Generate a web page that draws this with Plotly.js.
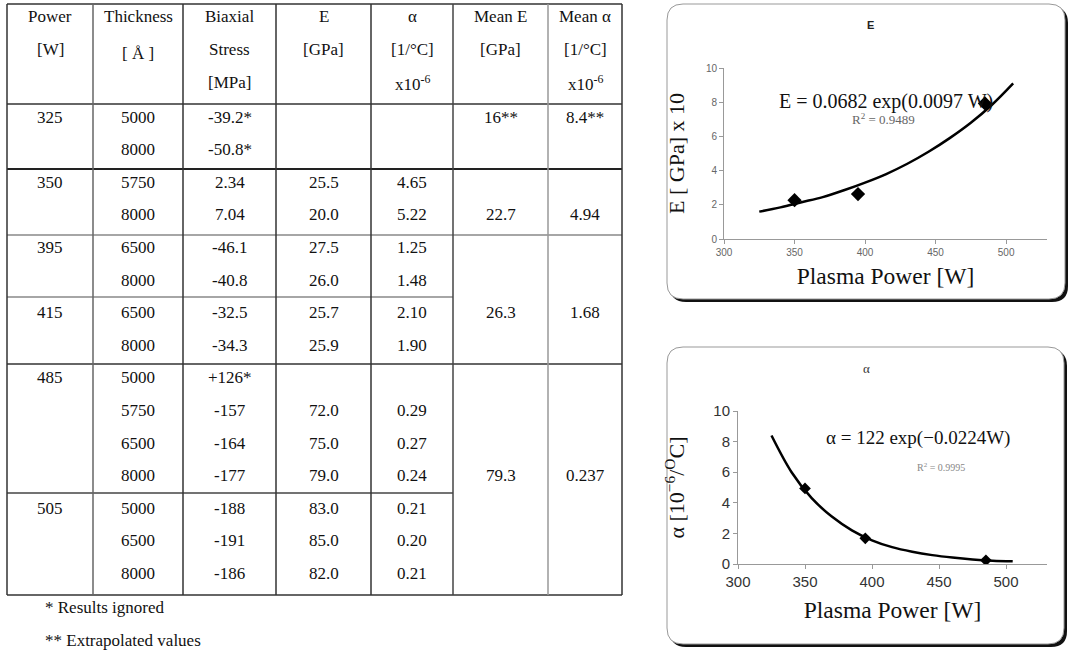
<!DOCTYPE html>
<html>
<head>
<meta charset="utf-8">
<script src="https://cdn.plot.ly/plotly-3.0.1.min.js"></script>
<style>html,body{margin:0;padding:0;background:#fff;}#chart{width:1070px;height:651px;}</style>
</head>
<body>
<div id="chart"></div>
<script>
// ---------- Table data ----------
const headerLine1 = ['Power', 'Thickness', 'Biaxial', 'E', 'α', 'Mean E', 'Mean α'];
const headerLine2 = ['[W]', '[ Å ]', 'Stress', '[GPa]', '[1/°C]', '[GPa]', '[1/°C]'];
const headerLine3 = ['', '', '[MPa]', '', 'x10<sup>-6</sup>', '', 'x10<sup>-6</sup>'];

const rowPower  = ['325', '', '350', '', '395', '', '415', '', '485', '', '', '', '505', '', ''];
const thickness = ['5000', '8000', '5750', '8000', '6500', '8000', '6500', '8000', '5000', '5750', '6500', '8000', '5000', '6500', '8000'];
const stress    = ['-39.2*', '-50.8*', '2.34', '7.04', '-46.1', '-40.8', '-32.5', '-34.3', '+126*', '-157', '-164', '-177', '-188', '-191', '-186'];
const modulusE  = ['', '', '25.5', '20.0', '27.5', '26.0', '25.7', '25.9', '', '72.0', '75.0', '79.0', '83.0', '85.0', '82.0'];
const alphaVal  = ['', '', '4.65', '5.22', '1.25', '1.48', '2.10', '1.90', '', '0.29', '0.27', '0.24', '0.21', '0.20', '0.21'];
const meanE     = ['16**', '', '', '22.7', '', '', '26.3', '', '', '', '', '79.3', '', '', ''];
const meanAlpha = ['8.4**', '', '', '4.94', '', '', '1.68', '', '', '', '', '0.237', '', '', ''];
const footnotes = ['* Results ignored', '** Extrapolated values'];

// ---------- Chart data ----------
const pointPower = [350, 395, 485];
const pointE     = [2.27, 2.63, 7.93];      // mean E / 10  [GPa x 10]
const pointAlpha = [4.94, 1.68, 0.237];     // mean alpha [1e-6/°C]
const trendPower = [325, 340, 355, 370, 385, 400, 415, 430, 445, 460, 475, 490, 505];
const trendE     = [1.6, 1.85, 2.15, 2.45, 2.85, 3.3, 3.8, 4.4, 5.1, 5.9, 6.8, 7.85, 9.1];
const trendAlpha = [8.4, 6.0, 4.3, 3.1, 2.2, 1.55, 1.1, 0.8, 0.58, 0.42, 0.3, 0.22, 0.18];
const xTicks     = [300, 350, 400, 450, 500];

// ---------- Helpers (pixel -> paper) ----------
const W = 1070, H = 651;
const X = p => p / W;
const Y = p => 1 - p / H;

const serif = '"Liberation Serif", "Times New Roman", serif';
const sans = '"Liberation Sans", Arial, sans-serif';

const annotations = [];
const shapes = [];

function txt(x, y, text, size, color, opts) {
  annotations.push(Object.assign({
    xref: 'paper', yref: 'paper', x: X(x), y: Y(y), text: text, showarrow: false,
    xanchor: 'center', yanchor: 'middle',
    font: {family: serif, size: size, color: color || '#111'}
  }, opts || {}));
}
function hline(x0, x1, y, color, w) {
  shapes.push({type: 'line', xref: 'paper', yref: 'paper', x0: X(x0), x1: X(x1), y0: Y(y), y1: Y(y),
    line: {color: color, width: w}});
}
function vline(x, y0, y1, color, w) {
  shapes.push({type: 'line', xref: 'paper', yref: 'paper', x0: X(x), x1: X(x), y0: Y(y0), y1: Y(y1),
    line: {color: color, width: w}});
}
function roundRect(x0, y0, x1, y1, r) {
  return 'M ' + X(x0 + r) + ',' + Y(y0) +
    ' L ' + X(x1 - r) + ',' + Y(y0) +
    ' Q ' + X(x1) + ',' + Y(y0) + ' ' + X(x1) + ',' + Y(y0 + r) +
    ' L ' + X(x1) + ',' + Y(y1 - r) +
    ' Q ' + X(x1) + ',' + Y(y1) + ' ' + X(x1 - r) + ',' + Y(y1) +
    ' L ' + X(x0 + r) + ',' + Y(y1) +
    ' Q ' + X(x0) + ',' + Y(y1) + ' ' + X(x0) + ',' + Y(y1 - r) +
    ' L ' + X(x0) + ',' + Y(y0 + r) +
    ' Q ' + X(x0) + ',' + Y(y0) + ' ' + X(x0 + r) + ',' + Y(y0) + ' Z';
}
function box(x0, y0, x1, y1) {
  shapes.push({type: 'path', xref: 'paper', yref: 'paper', layer: 'below',
    path: roundRect(x0 + 3, y0 + 3, x1 + 3, y1 + 3, 16), fillcolor: '#111', line: {width: 0}});
  shapes.push({type: 'path', xref: 'paper', yref: 'paper', layer: 'below',
    path: roundRect(x0, y0, x1, y1, 16), fillcolor: '#fff', line: {color: '#999', width: 1}});
}

// ---------- Table layout ----------
const colEdges = [7, 93, 183, 276, 371, 453, 548, 622];
const colCenters = colEdges.slice(0, -1).map((e, i) => (e + colEdges[i + 1]) / 2);
const headerY = [16, 50, 83];
const rowY0 = 117, rowPitch = 32.6;
const tableTop = 4, tableBottom = 595;
const fs = 17;

headerLine1.forEach((t, c) => txt(colCenters[c], headerY[0], t, fs));
headerLine2.forEach((t, c) => txt(colCenters[c], headerY[1] + (c === 1 ? 4 : 0), t, fs));
headerLine3.forEach((t, c) => { if (t) txt(colCenters[c], headerY[2], t, fs); });

const columns = [rowPower, thickness, stress, modulusE, alphaVal, meanE, meanAlpha];
columns.forEach((col, c) => {
  col.forEach((v, r) => { if (v) txt(colCenters[c], rowY0 + rowPitch * r, v, fs); });
});
footnotes.forEach((t, i) => txt(43, 607 + 33 * i, t, fs, '#111', {xanchor: 'left'}));

// horizontal rules
hline(colEdges[0], colEdges[7], tableTop, '#333', 1.5);
hline(colEdges[0], colEdges[7], 104, '#333', 1.5);
hline(colEdges[0], colEdges[7], 169, '#222', 2);
hline(colEdges[0], colEdges[7], 235, '#888', 1.5);
hline(colEdges[0], colEdges[5], 297, '#888', 1.5);
hline(colEdges[0], colEdges[7], 364, '#333', 1.5);
hline(colEdges[0], colEdges[5], 493, '#444', 1.5);
hline(colEdges[0], colEdges[7], tableBottom, '#333', 1.5);
// vertical rules
const vColors = ['#333', '#666', '#333', '#333', '#333', '#444', '#999', '#333'];
colEdges.forEach((x, i) => vline(x, tableTop, tableBottom, vColors[i], 1.5));

// ---------- Chart boxes ----------
box(667, 4, 1065, 299);
box(667, 347, 1064, 644);

// chart titles & equations
txt(870, 25, '<b>E</b>', 11, '#222', {font: {family: sans, size: 11, color: '#222'}});
txt(866, 368, 'α', 13, '#333');
txt(886, 102, 'E = 0.0682 exp(0.0097 W)', 20, '#111');
txt(883, 119, 'R<sup>2</sup> = 0.9489', 13, '#666');
txt(918, 438, 'α = 122 exp(−0.0224W)', 19, '#111');
txt(941, 467, 'R<sup>2</sup> = 0.9995', 10, '#888');

// ---------- Traces ----------
const traces = [
  {x: trendPower, y: trendE, type: 'scatter', mode: 'lines', xaxis: 'x', yaxis: 'y',
   line: {color: '#000', width: 2.5, shape: 'spline'}, hoverinfo: 'skip'},
  {x: pointPower, y: pointE, type: 'scatter', mode: 'markers', xaxis: 'x', yaxis: 'y',
   marker: {symbol: 'diamond', size: 11, color: '#000'}},
  {x: trendPower, y: trendAlpha, type: 'scatter', mode: 'lines', xaxis: 'x2', yaxis: 'y2',
   line: {color: '#000', width: 2.5, shape: 'spline'}, hoverinfo: 'skip'},
  {x: pointPower, y: pointAlpha, type: 'scatter', mode: 'markers', xaxis: 'x2', yaxis: 'y2',
   marker: {symbol: 'diamond', size: 9, color: '#000'}}
];

function axisBase(extra) {
  return Object.assign({
    showgrid: false, zeroline: false, showline: true, linecolor: '#999', linewidth: 1,
    ticks: 'outside', ticklen: 4, tickcolor: '#999', tickwidth: 1, fixedrange: true, automargin: false
  }, extra);
}

const layout = {
  width: W, height: H,
  margin: {l: 0, r: 0, t: 0, b: 0, pad: 0},
  paper_bgcolor: '#fff', plot_bgcolor: 'rgba(0,0,0,0)',
  showlegend: false,
  xaxis: axisBase({domain: [X(724), X(1047)], range: [300, 529], anchor: 'y', tickvals: xTicks,
    tickfont: {family: sans, size: 10, color: '#666'},
    title: {text: 'Plasma Power [W]', font: {family: serif, size: 23.5, color: '#111'}, standoff: 10}}),
  yaxis: axisBase({domain: [Y(239), Y(68)], range: [0, 10], anchor: 'x', dtick: 2, tick0: 0,
    tickfont: {family: sans, size: 10, color: '#666'},
    title: {text: 'E [ GPa] x 10', font: {family: serif, size: 22, color: '#111'}, standoff: 15}}),
  xaxis2: axisBase({domain: [X(738), X(1047)], range: [300, 530.6], anchor: 'y2', tickvals: xTicks,
    tickfont: {family: sans, size: 15, color: '#333'},
    title: {text: 'Plasma Power [W]', font: {family: serif, size: 23.5, color: '#111'}, standoff: 12}}),
  yaxis2: axisBase({domain: [Y(564), Y(411)], range: [0, 10], anchor: 'x2', dtick: 2, tick0: 0,
    tickfont: {family: sans, size: 15, color: '#333'},
    title: {text: 'α [10<sup>−6</sup>/<sup>O</sup>C]', font: {family: serif, size: 22, color: '#111'}, standoff: 22}}),
  annotations: annotations,
  shapes: shapes
};

Plotly.newPlot('chart', traces, layout, {displayModeBar: false, staticPlot: true});
</script>
</body>
</html>
